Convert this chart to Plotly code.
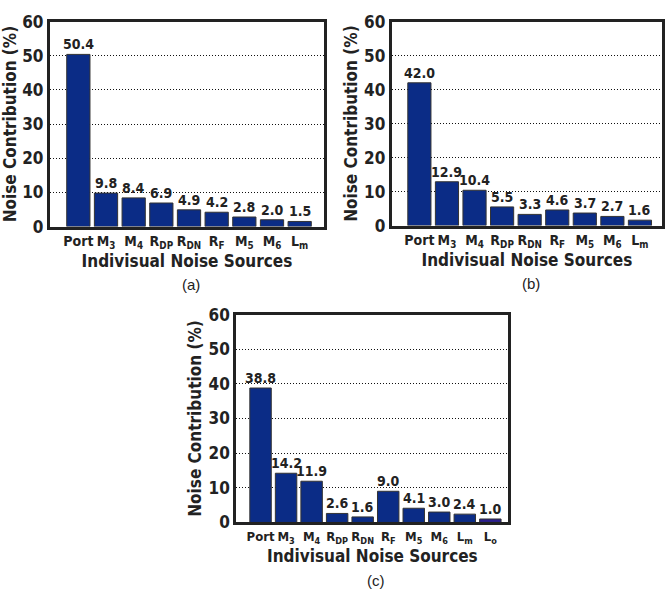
import plotly.graph_objects as go

# Noise contribution breakdown for three LNA configurations
sources_ab = ["Port", "M<sub>3</sub>", "M<sub>4</sub>", "R<sub>DP</sub>", "R<sub>DN</sub>",
              "R<sub>F</sub>", "M<sub>5</sub>", "M<sub>6</sub>", "L<sub>m</sub>"]
sources_c = sources_ab + ["L<sub>o</sub>"]

contrib_a = [50.4, 9.8, 8.4, 6.9, 4.9, 4.2, 2.8, 2.0, 1.5]
contrib_b = [42.0, 12.9, 10.4, 5.5, 3.3, 4.6, 3.7, 2.7, 1.6]
contrib_c = [38.8, 14.2, 11.9, 2.6, 1.6, 9.0, 4.1, 3.0, 2.4, 1.0]

panel_tags = ["(a)", "(b)", "(c)"]
y_ticks = [0, 10, 20, 30, 40, 50, 60]

W, H = 665, 604
FONT = "DejaVu Sans Condensed, Liberation Sans Narrow, Arial Narrow, sans-serif"
INK = "#222222"
NAVY = "#0b2c86"
PURPLE = "#2b1f8c"


def px_x(v):
    return v / W


def px_y(v):
    return 1 - v / H


# plot-area rectangles in pixels: (left, right, top, bottom)
panels = [
    dict(rect=(50, 325, 12, 224), cats=sources_ab, vals=contrib_a, xr=[-1.03, 8.88], fs=14),
    dict(rect=(393, 664, 12, 223), cats=sources_ab, vals=contrib_b, xr=[-1.0, 8.8], fs=14),
    dict(rect=(237, 510, 315, 530), cats=sources_c, vals=contrib_c, xr=[-0.95, 9.71], fs=13),
]

fig = go.Figure()
annotations = []
for i, p in enumerate(panels):
    l, r, t, b = p["rect"]
    ax = "" if i == 0 else str(i + 1)
    colors = [NAVY] * len(p["vals"])
    if len(p["vals"]) == 10:
        colors[-1] = PURPLE
    fig.add_trace(go.Bar(
        x=p["cats"], y=p["vals"],
        xaxis="x" + ax, yaxis="y" + ax,
        marker=dict(color=colors, line=dict(color="#333333", width=1)),
        width=0.84,
        showlegend=False,
    ))
    # value labels above each bar
    for c, v in zip(p["cats"], p["vals"]):
        annotations.append(dict(
            x=c, y=v, xref="x" + ax, yref="y" + ax, text=f"{v:.1f}",
            showarrow=False, xanchor="center", yanchor="bottom", yshift=0,
            font=dict(family=FONT, size=14, color=INK, weight="bold"),
        ))
    fig.layout["xaxis" + ax] = dict(
        domain=[px_x(l), px_x(r)], anchor="y" + ax,
        type="category", range=p["xr"],
        showline=True, linewidth=3, linecolor=INK, mirror=True,
        showgrid=False, ticks="", tickangle=0,
        tickfont=dict(family=FONT, size=p["fs"], color=INK, weight="bold"),
        title=dict(text="Indivisual Noise Sources", standoff=5,
                   font=dict(family=FONT, size=17, color=INK, weight="bold")),
    )
    fig.layout["yaxis" + ax] = dict(
        domain=[px_y(b), px_y(t)], anchor="x" + ax,
        range=[0, 60], tickvals=y_ticks,
        showline=True, linewidth=3, linecolor=INK, mirror=True,
        showgrid=True, gridcolor="#111111", gridwidth=1, griddash="1px,2px",
        ticks="", ticklabelstandoff=0,
        tickfont=dict(family=FONT, size=17, color=INK, weight="bold"),
        title=dict(text="Noise Contribution (%)", standoff=3,
                   font=dict(family=FONT, size=17, color=INK, weight="bold")),
    )
    annotations.append(dict(
        text=panel_tags[i], xref="paper", yref="paper",
        x=px_x((l + r) / 2 + 4), y=px_y(b + 60), xanchor="center", yanchor="middle",
        showarrow=False, font=dict(family="Liberation Sans, Arial, sans-serif", size=15, color=INK),
    ))

fig.update_layout(
    width=W, height=H, margin=dict(l=0, r=0, t=0, b=0),
    paper_bgcolor="white", plot_bgcolor="white",
    annotations=annotations,
)

fig.write_html("out.html")
